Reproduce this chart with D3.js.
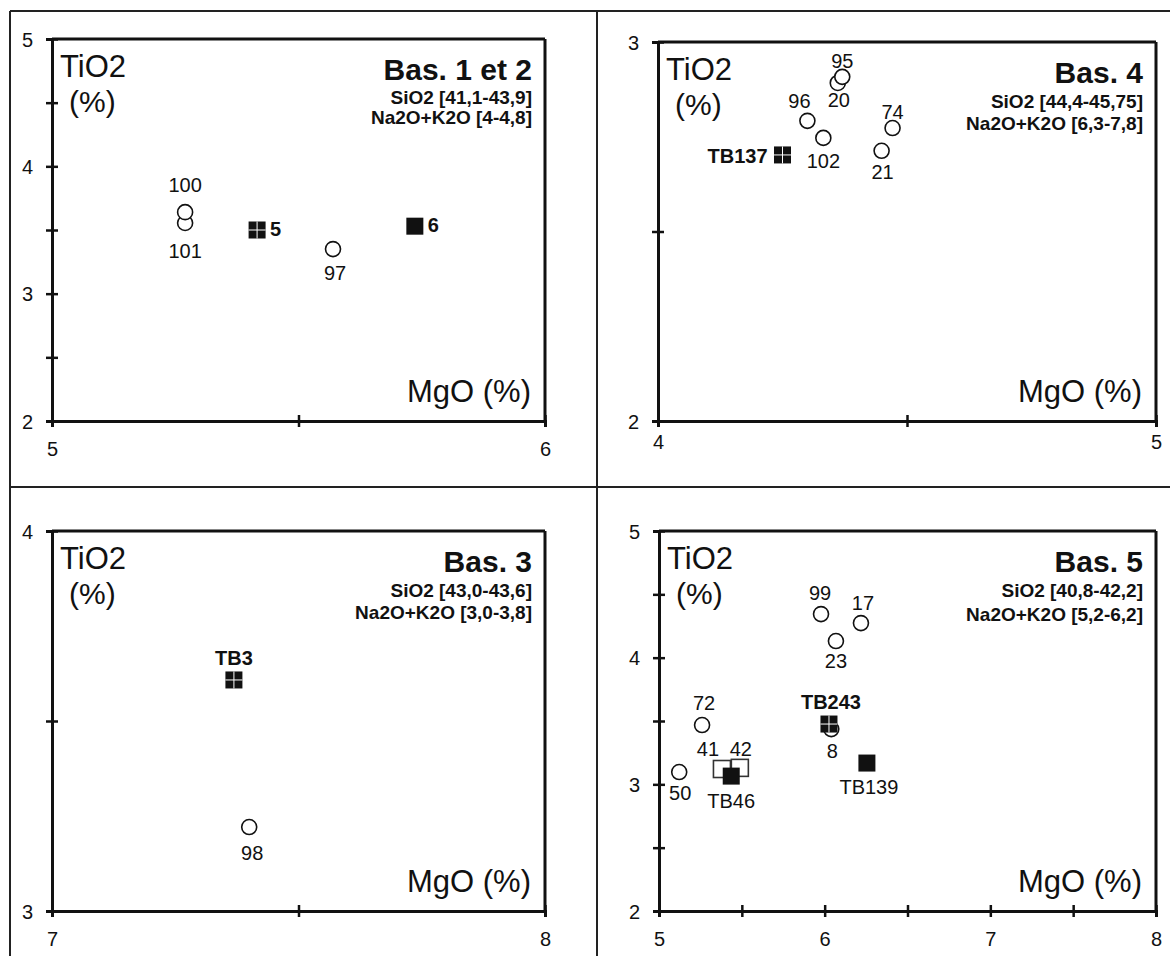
<!DOCTYPE html>
<html><head><meta charset="utf-8">
<script src="https://cdn.jsdelivr.net/npm/d3@7"></script>
<style>
body{margin:0;background:#fff}
svg{display:block}
text{font-family:"Liberation Sans",Arial,sans-serif;fill:#111}
</style>
</head><body><svg id="c" width="1170" height="956"></svg>
<script>
// ---------- data ----------
const panelTitles = ["Bas. 1 et 2", "Bas. 4", "Bas. 3", "Bas. 5"];
const sio2Ranges = ["SiO2 [41,1-43,9]", "SiO2 [44,4-45,75]", "SiO2 [43,0-43,6]", "SiO2 [40,8-42,2]"];
const alkaliRanges = ["Na2O+K2O [4-4,8]", "Na2O+K2O [6,3-7,8]", "Na2O+K2O [3,0-3,8]", "Na2O+K2O [5,2-6,2]"];
const xDomains = [[5, 6], [4, 5], [7, 8], [5, 8]];
const yDomains = [[2, 5], [2, 3], [3, 4], [2, 5]];
const xTicks = [[5, 5.5, 6], [4, 4.5, 5], [7, 7.5, 8], [5, 5.5, 6, 6.5, 7, 7.5, 8]];
const yTicks = [[2, 2.5, 3, 3.5, 4, 4.5, 5], [2, 2.5, 3], [3, 3.5, 4], [2, 2.5, 3, 3.5, 4, 4.5, 5]];
const xTickLabels = [["5", "6"], ["4", "5"], ["7", "8"], ["5", "6", "7", "8"]];
const yTickLabels = [["2", "3", "4", "5"], ["2", "3"], ["3", "4"], ["2", "3", "4", "5"]];

const p1Samples = ["101", "100", "5", "97", "6"];
const p1MgO = [5.27, 5.27, 5.416, 5.57, 5.736];
const p1TiO2 = [3.555, 3.64, 3.50, 3.35, 3.53];
const p1Types = ["circle", "circle", "crossed", "circle", "filled"];

const p2Samples = ["20", "95", "96", "102", "74", "21", "TB137"];
const p2MgO = [4.361, 4.370, 4.300, 4.332, 4.471, 4.449, 4.25];
const p2TiO2 = [2.892, 2.908, 2.792, 2.747, 2.773, 2.713, 2.702];
const p2Types = ["circle", "circle", "circle", "circle", "circle", "circle", "crossed"];

const p3Samples = ["TB3", "98"];
const p3MgO = [7.369, 7.40];
const p3TiO2 = [3.608, 3.221];
const p3Types = ["crossed", "circle"];

const p4Samples = ["99", "17", "23", "72", "50", "8", "TB243", "41", "42", "TB46", "TB139"];
const p4MgO = [5.978, 6.219, 6.068, 5.26, 5.122, 6.04, 6.026, 5.38, 5.488, 5.436, 6.255];
const p4TiO2 = [4.344, 4.273, 4.131, 3.468, 3.097, 3.436, 3.476, 3.121, 3.13, 3.065, 3.168];
const p4Types = ["circle", "circle", "circle", "circle", "circle", "circle", "crossed", "open", "open", "filled", "filled"];

const boldSamples = ["5", "6", "TB137", "TB3", "TB243"];

// ---------- label placement (dx, dy, anchor) ----------
const p1LabelPos = [[0, 35, "m"], [0, -20, "m"], [13, 6, "s"], [2, 31, "m"], [13, 6, "s"]];
const p2LabelPos = [[1, 24, "m"], [0, -9, "m"], [-8, -13, "m"], [0, 30, "m"], [0, -9, "m"], [1, 28, "m"], [-15, 8, "e"]];
const p3LabelPos = [[0, -15, "m"], [3, 33, "m"]];
const p4LabelPos = [[-1, -14, "m"], [2, -13, "m"], [0, 27, "m"], [2, -15, "m"], [1, 28, "m"], [1, 29, "m"], [2, -15, "m"], [-14, -13, "m"], [1, -12, "m"], [0, 32, "m"], [2, 31, "m"]];

// ---------- layout ----------
const layouts = [
  {x0: 52, x1: 545, yT: 39, yB: 421, xlab: 35, l1: 65, l2: 85},
  {x0: 658, x1: 1156, yT: 42, yB: 421, xlab: 28, l1: 66, l2: 88},
  {x0: 52, x1: 545, yT: 531, yB: 911, xlab: 35, l1: 66, l2: 88},
  {x0: 659, x1: 1156, yT: 531, yB: 911, xlab: 35, l1: 66, l2: 90}
];
const samples = [p1Samples, p2Samples, p3Samples, p4Samples];
const mgo = [p1MgO, p2MgO, p3MgO, p4MgO];
const tio2 = [p1TiO2, p2TiO2, p3TiO2, p4TiO2];
const types = [p1Types, p2Types, p3Types, p4Types];
const labelPos = [p1LabelPos, p2LabelPos, p3LabelPos, p4LabelPos];

const svg = d3.select("#c");

// outer frame and dividers
const frame = svg.append("g").attr("stroke", "#222").attr("stroke-width", 2);
frame.append("line").attr("x1", 10).attr("y1", 11).attr("x2", 1170).attr("y2", 11);
frame.append("line").attr("x1", 10).attr("y1", 11).attr("x2", 10).attr("y2", 956);
frame.append("line").attr("x1", 597).attr("y1", 11).attr("x2", 597).attr("y2", 956);
frame.append("line").attr("x1", 10).attr("y1", 487).attr("x2", 1170).attr("y2", 487);

const anchorMap = {m: "middle", s: "start", e: "end"};

layouts.forEach((L, i) => {
  const x = d3.scaleLinear().domain(xDomains[i]).range([L.x0, L.x1]);
  const y = d3.scaleLinear().domain(yDomains[i]).range([L.yB, L.yT]);
  const g = svg.append("g");

  // box (top & right)
  g.append("line").attr("x1", x(xDomains[i][0])).attr("x2", x(xDomains[i][1]))
    .attr("y1", y(yDomains[i][1])).attr("y2", y(yDomains[i][1]))
    .attr("stroke", "#111").attr("stroke-width", 3);
  g.append("line").attr("x1", x(xDomains[i][1])).attr("x2", x(xDomains[i][1]))
    .attr("y1", y(yDomains[i][0])).attr("y2", y(yDomains[i][1]))
    .attr("stroke", "#111").attr("stroke-width", 3);

  // x axis
  const gx = g.append("g").attr("transform", `translate(0,${L.yB})`)
    .call(d3.axisBottom(x).tickValues(xTicks[i]).tickSizeOuter(0).tickSize(6)
      .tickFormat(d => xTickLabels[i].includes(String(d)) ? String(d) : ""));
  gx.attr("font-size", 20).attr("font-family", "Liberation Sans, Arial, sans-serif");
  gx.select(".domain").attr("stroke", "#111").attr("stroke-width", 3);
  gx.selectAll(".tick line").attr("y1", -6).attr("y2", 6).attr("stroke", "#111").attr("stroke-width", 2.5);
  gx.selectAll(".tick text").attr("y", L.xlab).attr("dy", 0).attr("fill", "#111");

  // y axis
  const gy = g.append("g").attr("transform", `translate(${L.x0},0)`)
    .call(d3.axisLeft(y).tickValues(yTicks[i]).tickSizeOuter(0).tickSize(6)
      .tickFormat(d => yTickLabels[i].includes(String(d)) ? String(d) : ""));
  gy.attr("font-size", 20).attr("font-family", "Liberation Sans, Arial, sans-serif");
  gy.select(".domain").attr("stroke", "#111").attr("stroke-width", 3);
  gy.selectAll(".tick line").attr("x1", -6).attr("x2", 6).attr("stroke", "#111").attr("stroke-width", 2.5);
  gy.selectAll(".tick text").attr("x", -19).attr("dy", "0.35em").attr("fill", "#111");

  // axis titles
  g.append("text").attr("x", L.x0 + 8).attr("y", L.yT + 38).style("font-size", "31px").text("TiO2");
  g.append("text").attr("x", L.x0 + 17).attr("y", L.yT + 73).style("font-size", "30px").text("(%)");
  g.append("text").attr("x", L.x1 - 14).attr("y", L.yB - 19).attr("text-anchor", "end")
    .style("font-size", "31px").text("MgO (%)");

  // panel titles
  g.append("text").attr("x", L.x1 - 13).attr("y", L.yT + 41).attr("text-anchor", "end")
    .style("font-size", "30px").style("font-weight", "bold").text(panelTitles[i]);
  g.append("text").attr("x", L.x1 - 13).attr("y", L.yT + L.l1).attr("text-anchor", "end")
    .style("font-size", "19px").style("font-weight", "bold").text(sio2Ranges[i]);
  g.append("text").attr("x", L.x1 - 13).attr("y", L.yT + L.l2).attr("text-anchor", "end")
    .style("font-size", "19px").style("font-weight", "bold").text(alkaliRanges[i]);

  // points
  const pts = samples[i].map((s, k) => ({s, mg: mgo[i][k], ti: tio2[i][k], t: types[i][k], lp: labelPos[i][k]}));
  const sq = 17;
  pts.forEach(p => {
    const cx = x(p.mg), cy = y(p.ti);
    if (p.t === "circle") {
      g.append("circle").attr("cx", cx).attr("cy", cy).attr("r", 7.5)
        .attr("fill", "#fff").attr("stroke", "#111").attr("stroke-width", 1.6);
    } else if (p.t === "open") {
      g.append("rect").attr("x", cx - sq / 2).attr("y", cy - sq / 2).attr("width", sq).attr("height", sq)
        .attr("fill", "#fff").attr("stroke", "#333").attr("stroke-width", 1.6);
    } else {
      g.append("rect").attr("x", cx - sq / 2).attr("y", cy - sq / 2).attr("width", sq).attr("height", sq)
        .attr("fill", "#111");
      if (p.t === "crossed") {
        g.append("line").attr("x1", cx).attr("x2", cx).attr("y1", cy - sq / 2).attr("y2", cy + sq / 2)
          .attr("stroke", "#fff").attr("stroke-width", 1);
        g.append("line").attr("x1", cx - sq / 2).attr("x2", cx + sq / 2).attr("y1", cy).attr("y2", cy)
          .attr("stroke", "#fff").attr("stroke-width", 1);
      }
    }
  });
  pts.forEach(p => {
    g.append("text").attr("x", x(p.mg) + p.lp[0]).attr("y", y(p.ti) + p.lp[1])
      .attr("text-anchor", anchorMap[p.lp[2]])
      .style("font-size", "20px")
      .style("font-weight", boldSamples.includes(p.s) ? "bold" : "normal")
      .text(p.s);
  });
});
</script>
</body></html>
